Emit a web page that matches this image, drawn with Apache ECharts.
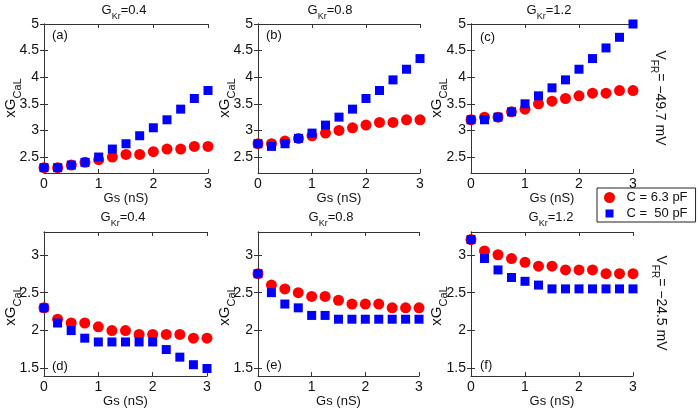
<!DOCTYPE html>
<html><head><meta charset="utf-8">
<script src="https://cdn.jsdelivr.net/npm/echarts@6/dist/echarts.min.js"></script>
<style>html,body{margin:0;padding:0;background:#fff}#c{width:700px;height:409px}</style>
</head><body><div id="c"></div>
<script>
// ---- data ----
const gs = [0, 0.25, 0.5, 0.75, 1, 1.25, 1.5, 1.75, 2, 2.25, 2.5, 2.75, 3];
const xTicks = [0, 1, 2, 3];
const yTicksTop = [2.5, 3, 3.5, 4, 4.5, 5];
const yTicksBottom = [1.5, 2, 2.5, 3];
const yRangeTop = [2.2, 5];
const yRangeBottom = [1.4, 3.3];
const gKrValues = ['0.4', '0.8', '1.2', '0.4', '0.8', '1.2'];
const panelLabels = ['(a)', '(b)', '(c)', '(d)', '(e)', '(f)'];
const vfrValues = ['= −49.7 mV', '= −24.5 mV'];
const seriesNames = ['C = 6.3 pF', 'C =  50 pF'];
const xName = 'Gs (nS)';

const redA = [2.3, 2.3, 2.35, 2.4, 2.45, 2.5, 2.55, 2.55, 2.6, 2.65, 2.65, 2.7, 2.7];
const blueA = [2.3, 2.3, 2.35, 2.4, 2.5, 2.65, 2.75, 2.9, 3.05, 3.2, 3.4, 3.6, 3.75];
const redB = [2.75, 2.75, 2.8, 2.85, 2.9, 2.95, 3.0, 3.05, 3.1, 3.15, 3.15, 3.2, 3.2];
const blueB = [2.75, 2.7, 2.75, 2.85, 2.95, 3.1, 3.25, 3.4, 3.6, 3.75, 3.95, 4.15, 4.35];
const redC = [3.2, 3.25, 3.25, 3.35, 3.4, 3.5, 3.55, 3.6, 3.65, 3.7, 3.7, 3.75, 3.75];
const blueC = [3.2, 3.2, 3.25, 3.35, 3.5, 3.65, 3.8, 3.95, 4.15, 4.35, 4.55, 4.75, 5.0];
const redD = [2.3, 2.15, 2.1, 2.1, 2.05, 2.0, 2.0, 1.95, 1.95, 1.95, 1.95, 1.9, 1.9];
const blueD = [2.3, 2.1, 2.0, 1.9, 1.85, 1.85, 1.85, 1.85, 1.85, 1.75, 1.65, 1.55, 1.5];
const redE = [2.75, 2.6, 2.55, 2.5, 2.45, 2.45, 2.4, 2.35, 2.35, 2.35, 2.3, 2.3, 2.3];
const blueE = [2.75, 2.5, 2.35, 2.3, 2.2, 2.2, 2.15, 2.15, 2.15, 2.15, 2.15, 2.15, 2.15];
const redF = [3.2, 3.05, 3.0, 2.95, 2.9, 2.85, 2.85, 2.8, 2.8, 2.8, 2.75, 2.75, 2.75];
const blueF = [3.2, 2.95, 2.8, 2.7, 2.65, 2.6, 2.55, 2.55, 2.55, 2.55, 2.55, 2.55, 2.55];

const redSets = [redA, redB, redC, redD, redE, redF];
const blueSets = [blueA, blueB, blueC, blueD, blueE, blueF];

// ---- layout / style ----
const FONT = '"Liberation Sans", Arial, Helvetica, sans-serif';
const AX = '#333';
const grids = [
  {left: 44, top: 24, width: 164, height: 149},
  {left: 258, top: 24, width: 162, height: 149},
  {left: 471, top: 24, width: 162, height: 149},
  {left: 44, top: 232, width: 163, height: 148},
  {left: 258, top: 232, width: 161, height: 148},
  {left: 471, top: 232, width: 162, height: 148}
];
const titlePos = [[124, 10], [330, 10], [549, 10], [123, 217], [331, 217], [551, 217]];
const yLabelPos = [[11, 98], [225, 98], [437, 98], [11, 306], [225, 306], [437, 306]];
const panelLabelPos = [[52, 35], [266, 35], [480, 37], [52, 366], [266, 365], [480, 365]];
const vfrPos = [[660, 98], [661, 303]];

const xAxes = [], yAxes = [], series = [], graphics = [];
grids.forEach((g, i) => {
  const top = i < 3;
  const yr = top ? yRangeTop : yRangeBottom;
  const yt = top ? yTicksTop : yTicksBottom;
  xAxes.push({
    type: 'value', gridIndex: i, position: 'bottom', min: 0, max: 3,
    axisLine: {show: true, lineStyle: {color: AX, width: 1}},
    axisTick: {show: true, inside: true, length: 4, customValues: xTicks, lineStyle: {color: AX}},
    axisLabel: {customValues: xTicks, margin: 4, fontSize: 14, color: '#111', fontFamily: FONT},
    splitLine: {show: false},
    name: xName, nameLocation: 'middle', nameGap: 12,
    nameTextStyle: {fontSize: 13, color: '#111', fontFamily: FONT}
  });
  xAxes.push({
    type: 'value', gridIndex: i, position: 'top', min: 0, max: 3,
    axisLine: {show: true, lineStyle: {color: AX, width: 1}},
    axisTick: {show: true, inside: true, length: 4, customValues: xTicks, lineStyle: {color: AX}},
    axisLabel: {show: false}, splitLine: {show: false}
  });
  yAxes.push({
    type: 'value', gridIndex: i, position: 'left', min: yr[0], max: yr[1],
    axisLine: {show: true, lineStyle: {color: AX, width: 1}},
    axisTick: {show: true, inside: true, length: 4, customValues: yt, lineStyle: {color: AX}},
    axisLabel: {customValues: yt, margin: 5, fontSize: 14, color: '#111', fontFamily: FONT},
    splitLine: {show: false}
  });
  yAxes.push({
    type: 'value', gridIndex: i, position: 'right', min: yr[0], max: yr[1],
    axisLine: {show: true, lineStyle: {color: AX, width: 1}},
    axisTick: {show: true, inside: true, length: 4, customValues: yt, lineStyle: {color: AX}},
    axisLabel: {show: false}, splitLine: {show: false}
  });
  series.push({
    type: 'scatter', name: seriesNames[0], xAxisIndex: 2 * i, yAxisIndex: 2 * i,
    symbol: 'circle', symbolSize: 11, itemStyle: {color: '#ff0000', opacity: 1},
    data: gs.map((x, j) => [x, redSets[i][j]])
  });
  series.push({
    type: 'scatter', name: seriesNames[1], xAxisIndex: 2 * i, yAxisIndex: 2 * i,
    symbol: 'rect', symbolSize: 9, itemStyle: {color: '#0000ff', opacity: 1},
    data: gs.map((x, j) => [x, blueSets[i][j]])
  });

  graphics.push({
    type: 'text', x: titlePos[i][0], y: titlePos[i][1], silent: true,
    style: {
      text: '{m|G}{s|Kr}{m|=' + gKrValues[i] + '}', align: 'center', verticalAlign: 'middle',
      rich: {
        m: {fontSize: 13, lineHeight: 22, fontFamily: FONT, fill: '#111'},
        s: {fontSize: 9, lineHeight: 9, verticalAlign: 'bottom', fontFamily: FONT, fill: '#111'}
      }
    }
  });
  graphics.push({
    type: 'text', x: yLabelPos[i][0], y: yLabelPos[i][1], rotation: Math.PI / 2, silent: true,
    style: {
      text: '{m|xG}{s|CaL}', align: 'center', verticalAlign: 'middle',
      rich: {
        m: {fontSize: 15, lineHeight: 24, fontFamily: FONT, fill: '#111'},
        s: {fontSize: 11, lineHeight: 11, verticalAlign: 'bottom', fontFamily: FONT, fill: '#111'}
      }
    }
  });
  graphics.push({
    type: 'text', x: panelLabelPos[i][0], y: panelLabelPos[i][1], silent: true,
    style: {text: panelLabels[i], align: 'left', verticalAlign: 'middle', fontSize: 13, fontFamily: FONT, fill: '#111'}
  });
});
vfrPos.forEach((p, k) => {
  graphics.push({
    type: 'text', x: p[0], y: p[1], rotation: -Math.PI / 2, silent: true,
    style: {
      text: '{m|V}{s|FR}{m|' + vfrValues[k] + '}', align: 'center', verticalAlign: 'middle',
      rich: {
        m: {fontSize: 14, lineHeight: 22, fontFamily: FONT, fill: '#111'},
        s: {fontSize: 10, lineHeight: 10, verticalAlign: 'bottom', fontFamily: FONT, fill: '#111'}
      }
    }
  });
});

const squareIcon = 'path://M0,0L0.01,0M1.5,1.5L9.5,1.5L9.5,9.5L1.5,9.5ZM11,11L11,11.01';

const chart = echarts.init(document.getElementById('c'), null, {renderer: 'canvas'});
chart.setOption({
  animation: false,
  backgroundColor: '#fff',
  grid: grids,
  xAxis: xAxes,
  yAxis: yAxes,
  series: series,
  legend: {
    left: 597, top: 188, orient: 'vertical',
    data: [{name: seriesNames[0], icon: 'circle'}, {name: seriesNames[1], icon: squareIcon}],
    itemWidth: 24, itemHeight: 11, itemGap: 3,
    padding: [3, 8, 2, 7],
    borderColor: '#222', borderWidth: 1, backgroundColor: '#fff',
    textStyle: {fontSize: 13, color: '#111', fontFamily: FONT},
    selectedMode: false
  },
  graphic: graphics
});
</script></body></html>
